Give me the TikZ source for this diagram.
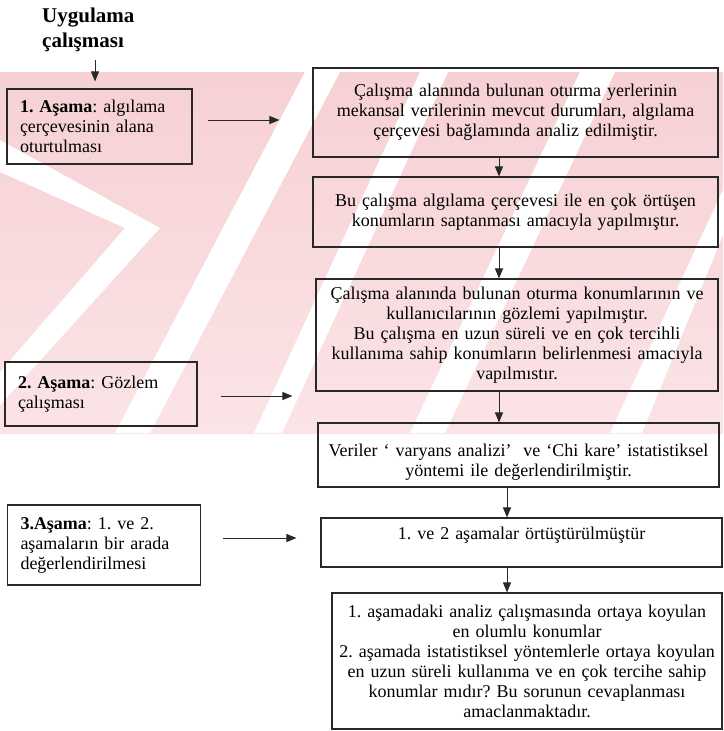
\documentclass[tikz,border=0pt]{standalone}
\usepackage{fontspec}
\setmainfont{Liberation Serif}
\usetikzlibrary{arrows.meta}
\definecolor{wmtop}{RGB}{246,208,212}
\definecolor{wmbot}{RGB}{251,228,230}
\definecolor{ink}{RGB}{40,40,40}
\newcommand{\bodyfont}{\fontsize{18}{20}\selectfont}

\begin{document}
\frenchspacing
\begin{tikzpicture}[x=1pt,y=-1pt,
    stagebox/.style={draw=ink, line width=1.1pt, align=left, font=\bodyfont,
        inner xsep=13pt, inner ysep=3pt, anchor=center},
    stepbox/.style={draw=ink, line width=1.1pt, align=center, font=\bodyfont,
        inner xsep=4pt, inner ysep=3pt, anchor=center},
    arr/.style={ink, line width=1pt, -{Triangle[length=10pt,width=8pt]}}]
    \useasboundingbox (0,0) rectangle (723,731);

    % watermark in the background
    \shade[top color=wmtop, bottom color=wmbot] (0,72) rectangle (723,433);
    \fill[white] (0,140) -- (160,228) -- (0,405) -- (0,372) -- (125,228) -- (0,172) -- cycle;
    \fill[white] (305,72) -- (340,72) -- (150,433) -- (115,433) -- cycle;
    \fill[white] (420,72) -- (448,72) -- (282,433) -- (254,433) -- cycle;
    \fill[white] (580,72) -- (615,72) -- (445,433) -- (410,433) -- cycle;
    \fill[white] (723,190) -- (723,235) -- (642,433) -- (610,433) -- cycle;

    % title
    \node[anchor=west, align=left, inner sep=0pt, font=\fontsize{21}{25}\selectfont\bfseries]
        (title) at (42,30) {Uygulama\\çalışması};

    % left column: stages
    \node[stagebox, text width=159pt, minimum height=75pt] (l1) at (99.5,126.5)
        {\textbf{1. Aşama}: algılama\\çerçevesinin alana\\oturtulması};
    \node[stagebox, text width=166pt, minimum height=64pt] (l2) at (101,394)
        {\textbf{2. Aşama}: Gözlem\\çalışması};
    \node[stagebox, text width=167pt, minimum height=80pt] (l3) at (104,545)
        {\textbf{3.Aşama}: 1. ve 2.\\aşamaların bir arada\\değerlendirilmesi};

    % right column: steps
    \node[stepbox, text width=397pt, minimum height=89pt] (r1) at (515.5,112.5)
        {Çalışma alanında bulunan oturma yerlerinin\\mekansal verilerinin mevcut durumları, algılama\\çerçevesi bağlamında analiz edilmiştir.};
    \node[stepbox, text width=397pt, minimum height=70pt] (r2) at (515.5,212)
        {Bu çalışma algılama çerçevesi ile en çok örtüşen\\konumların saptanması amacıyla yapılmıştır.};
    \node[stepbox, text width=394pt, minimum height=112pt] (r3) at (517,335)
        {Çalışma alanında bulunan oturma konumlarının ve\\kullanıcılarının gözlemi yapılmıştır.\\Bu çalışma en uzun süreli ve en çok tercihli\\kullanıma sahip konumların belirlenmesi amacıyla\\vapılmıstır.};
    \node[stepbox, text width=393pt, minimum height=64pt, text depth=10pt] (r4) at (518.5,455)
        {Veriler ‘ varyans analizi’\ \ ve ‘Chi kare’ istatistiksel\\yöntemi ile değerlendirilmiştir.};
    \node[stepbox, text width=393pt, minimum height=49pt, text depth=18pt] (r5) at (521.5,542.5)
        {1. ve 2 aşamalar örtüştürülmüştür};
    \node[stepbox, text width=382pt, minimum height=136pt] (r6) at (527,661)
        {1. aşamadaki analiz çalışmasında ortaya koyulan\\en olumlu konumlar\\2. aşamada istatistiksel yöntemlerle ortaya koyulan\\en uzun süreli kullanıma ve en çok tercihe sahip\\konumlar mıdır? Bu sorunun cevaplanması\\amaclanmaktadır.};

    % arrow columns
    \coordinate (col) at (499,0);
    \coordinate (col2) at (507,0);

    % arrows
    \draw[arr, shorten <=8pt, shorten >=7pt] ([xshift=-4.5pt]l1.north |- title.south) -- ([xshift=-4.5pt]l1.north);
    \draw[arr, shorten <=15pt, shorten >=33pt] ([yshift=6.5pt]l1.east) -- ([yshift=6.5pt]l1.east -| r1.west);
    \draw[arr, shorten <=23pt, shorten >=23pt] ([yshift=-2pt]l2.east) -- ([yshift=-2pt]l2.east -| r3.west);
    \draw[arr, shorten <=22pt, shorten >=24pt] ([yshift=7pt]l3.east) -- ([yshift=7pt]l3.east -| r5.west);
    \draw[arr] (r1.south -| col) -- (r2.north -| col);
    \draw[arr] (r2.south -| col) -- (r3.north -| col);
    \draw[arr] (r3.south -| col) -- (r4.north -| col);
    \draw[arr] (r4.south -| col2) -- (r5.north -| col2);
    \draw[arr] (r5.south -| col2) -- (r6.north -| col2);
\end{tikzpicture}
\end{document}
